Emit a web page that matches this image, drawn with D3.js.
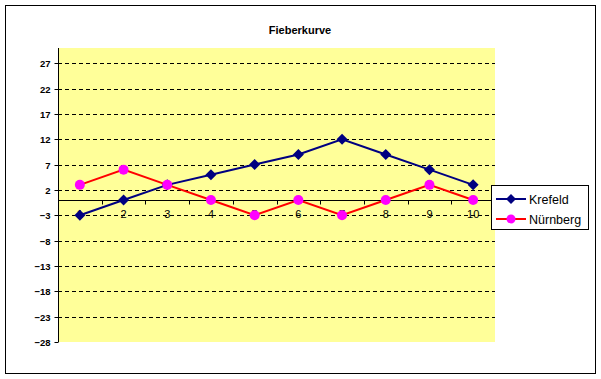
<!DOCTYPE html>
<html>
<head>
<meta charset="utf-8">
<script src="https://cdn.jsdelivr.net/npm/d3@7"></script>
<style>
  html, body { margin: 0; padding: 0; background: #fff; }
  svg { display: block; }
</style>
</head>
<body>
<svg id="chart" width="601" height="379"></svg>
<script>
const title = "Fieberkurve";
const categories = [1, 2, 3, 4, 5, 6, 7, 8, 9, 10];
const krefeld = [-3, 0, 3, 5, 7, 9, 12, 9, 6, 3];
const nuernberg = [3, 6, 3, 0, -3, 0, -3, 0, 3, 0];
const yTicks = [27, 22, 17, 12, 7, 2, -3, -8, -13, -18, -23, -28];
const yDomain = [-28, 30];
const seriesNames = ["Krefeld", "Nürnberg"];

const svg = d3.select("#chart");
const font = "Arial, 'Liberation Sans', sans-serif";

// outer border
svg.append("rect").attr("x", 5.5).attr("y", 5.5).attr("width", 590).attr("height", 368)
  .attr("fill", "#fff").attr("stroke", "#000").attr("stroke-width", 1);

const plot = { left: 58, right: 495, top: 48, bottom: 342 };

const x = d3.scaleBand().domain(categories).range([plot.left, plot.right]).padding(0);
const y = d3.scaleLinear().domain(yDomain).range([plot.bottom, plot.top]);

// title
svg.append("text").attr("x", 300).attr("y", 34).attr("text-anchor", "middle")
  .attr("font-family", font).attr("font-size", 11).attr("font-weight", "bold")
  .text(title);

// plot background
svg.append("rect").attr("x", plot.left).attr("y", plot.top)
  .attr("width", plot.right - plot.left).attr("height", plot.bottom - plot.top)
  .attr("fill", "#FFFF99");

// gridlines
svg.append("g").selectAll("line").data(yTicks.filter(t => t !== yDomain[0])).join("line")
  .attr("x1", plot.left).attr("x2", plot.right)
  .attr("y1", d => Math.round(y(d)) + 0.5).attr("y2", d => Math.round(y(d)) + 0.5)
  .attr("stroke", "#000").attr("stroke-width", 1).attr("stroke-dasharray", "4,3");

// y axis
const yAxis = d3.axisLeft(y).tickValues(yTicks).tickSize(4).tickPadding(4).tickFormat(d3.format("d"));
const gy = svg.append("g").attr("transform", `translate(${plot.left + 0.5},0)`).call(yAxis);
gy.selectAll("text").attr("font-family", font).attr("font-size", 9.5).attr("font-weight", "bold").attr("fill", "#000");
gy.selectAll("line").attr("stroke", "#000");
gy.select(".domain").attr("stroke", "#000").attr("d", `M0,${plot.top}V${plot.bottom}`);
gy.selectAll(".tick").attr("transform", d => `translate(0,${Math.round(y(d)) + 0.5})`);

// x axis at 0
const y0 = Math.round(y(0)) + 0.5;
const xAxis = d3.axisBottom(x).tickSize(0).tickPadding(10);
const gx = svg.append("g").attr("transform", `translate(0,${y0})`).call(xAxis);
gx.select(".domain").attr("stroke", "#000").attr("d", `M${plot.left},0H${plot.right}`);
gx.selectAll("text").attr("font-family", font).attr("font-size", 11).attr("fill", "#000");
// category boundary ticks
gx.append("g").selectAll("line").data(categories.slice(1)).join("line")
  .attr("x1", d => Math.round(x(d)) + 0.5).attr("x2", d => Math.round(x(d)) + 0.5)
  .attr("y1", 0).attr("y2", 4).attr("stroke", "#000");

const cx = d => x(d) + x.bandwidth() / 2;

const line = d3.line().x(d => cx(d[0])).y(d => y(d[1]));
const kData = categories.map((c, i) => [c, krefeld[i]]);
const nData = categories.map((c, i) => [c, nuernberg[i]]);

svg.append("path").datum(kData).attr("d", line).attr("fill", "none")
  .attr("stroke", "#000080").attr("stroke-width", 2);
svg.append("path").datum(nData).attr("d", line).attr("fill", "none")
  .attr("stroke", "#FF0000").attr("stroke-width", 2);

const diamond = (cxv, cyv, r) => `M${cxv},${cyv - r}L${cxv + r},${cyv}L${cxv},${cyv + r}L${cxv - r},${cyv}Z`;

svg.append("g").selectAll("path").data(kData).join("path")
  .attr("d", d => diamond(cx(d[0]), y(d[1]), 5.5)).attr("fill", "#000080");
svg.append("g").selectAll("circle").data(nData).join("circle")
  .attr("cx", d => cx(d[0])).attr("cy", d => y(d[1])).attr("r", 5).attr("fill", "#FF00FF");

// legend
const lg = svg.append("g");
lg.append("rect").attr("x", 491.5).attr("y", 185.5).attr("width", 97).attr("height", 44)
  .attr("fill", "#fff").attr("stroke", "#000");
const entries = [
  { name: seriesNames[0], color: "#000080", y: 199, mk: "d" },
  { name: seriesNames[1], color: "#FF0000", mfill: "#FF00FF", y: 219, mk: "c" }
];
entries.forEach(e => {
  lg.append("line").attr("x1", 496).attr("x2", 526).attr("y1", e.y).attr("y2", e.y)
    .attr("stroke", e.color).attr("stroke-width", 2);
  if (e.mk === "d") lg.append("path").attr("d", diamond(511, e.y, 5)).attr("fill", e.color);
  else lg.append("circle").attr("cx", 511).attr("cy", e.y).attr("r", 4.5).attr("fill", e.mfill);
  lg.append("text").attr("x", 529).attr("y", e.y + 4.5).attr("font-family", font)
    .attr("font-size", 12.5).attr("fill", "#000").text(e.name);
});
</script>
</body>
</html>
